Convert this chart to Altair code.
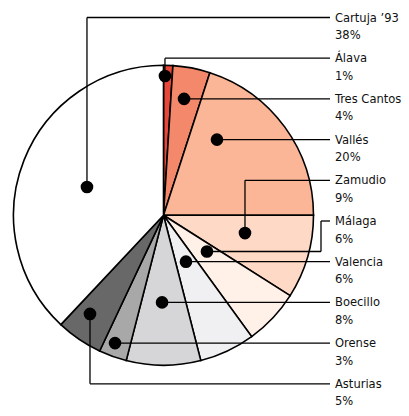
import math
import altair as alt
import pandas as pd

# ---- data ----
names = ["Álava", "Tres Cantos", "Vallés", "Zamudio", "Málaga", "Valencia",
         "Boecillo", "Orense", "Asturias", "Cartuja ’93"]
values = [1, 4, 20, 9, 6, 6, 8, 3, 5, 38]
colors = ["#e8483a", "#f3896a", "#fbb697", "#fdd9c6", "#fff0e8", "#f0eff1",
          "#d6d5d7", "#a8a8a8", "#686868", "#ffffff"]

# label order on the right (top to bottom)
label_order = ["Cartuja ’93", "Álava", "Tres Cantos", "Vallés", "Zamudio",
               "Málaga", "Valencia", "Boecillo", "Orense", "Asturias"]

# callout dot placement: angle (deg, clockwise from top) and radius fraction
dot_angle = {"Cartuja ’93": 290.3, "Álava": 0.6, "Tres Cantos": 10.2, "Vallés": 36.1,
             "Zamudio": 102.3, "Málaga": 129.8, "Valencia": 157.3, "Boecillo": 180.9,
             "Orense": 199.4, "Asturias": 216.7}
dot_rad = {"Cartuja ’93": 0.544, "Álava": 0.929, "Tres Cantos": 0.774, "Vallés": 0.605,
           "Zamudio": 0.556, "Málaga": 0.377, "Valencia": 0.388, "Boecillo": 0.611,
           "Orense": 0.973, "Asturias": 0.82}
# leader style: v = vertical then horizontal, h = horizontal, m = horizontal-vertical-horizontal
leader_style = {"Cartuja ’93": "v", "Álava": "v", "Tres Cantos": "h", "Vallés": "h",
                "Zamudio": "v", "Málaga": "m", "Valencia": "h", "Boecillo": "h",
                "Orense": "h", "Asturias": "v"}

# ---- layout ----
W, H = 393, 400
CX, CY, R = 155.5, 207.3, 150
LINE_END = 322
ELBOW_X = 313
TEXT_X = 327
LABEL_TOP, LABEL_STEP, PCT_GAP = 9.5, 40.7, 17.5

pie_df = pd.DataFrame({"name": names, "value": values, "order": list(range(len(names)))})

dots, segs, labels = [], [], []
for i, n in enumerate(label_order):
    a = math.radians(dot_angle[n])
    ly = LABEL_TOP + LABEL_STEP * i
    dx = CX + dot_rad[n] * R * math.sin(a)
    dy = CY - dot_rad[n] * R * math.cos(a)
    st = leader_style[n]
    if st == "h":
        dy = ly
    dots.append({"name": n, "x": dx, "y": dy})
    pct = values[names.index(n)]
    labels.append({"name": n, "pct": f"{pct}%", "x": TEXT_X, "y": ly, "y2": ly + PCT_GAP})
    if st == "v":
        segs.append({"x": dx, "y": dy, "x2": dx, "y2": ly})
        segs.append({"x": dx, "y": ly, "x2": LINE_END, "y2": ly})
    elif st == "h":
        segs.append({"x": dx, "y": dy, "x2": LINE_END, "y2": dy})
    else:
        segs.append({"x": dx, "y": dy, "x2": ELBOW_X, "y2": dy})
        segs.append({"x": ELBOW_X, "y": dy, "x2": ELBOW_X, "y2": ly})
        segs.append({"x": ELBOW_X, "y": ly, "x2": LINE_END, "y2": ly})

dots_df = pd.DataFrame(dots)
segs_df = pd.DataFrame(segs)
labels_df = pd.DataFrame(labels)

xs = alt.Scale(domain=[0, W], range=[0, W])
ys = alt.Scale(domain=[0, H], range=[0, H])

pie = alt.Chart(pie_df).mark_arc(radius=R, stroke="black", strokeWidth=1.6).encode(
    theta=alt.Theta("value:Q", stack=True),
    order=alt.Order("order:Q"),
    color=alt.Color("name:N", scale=alt.Scale(domain=names, range=colors), legend=None),
    x=alt.value(CX), y=alt.value(CY),
)

lines = alt.Chart(segs_df).mark_rule(color="black", strokeWidth=1.3).encode(
    x=alt.X("x:Q", scale=xs, axis=None), y=alt.Y("y:Q", scale=ys, axis=None),
    x2="x2:Q", y2="y2:Q",
)

pts = alt.Chart(dots_df).mark_circle(color="black", opacity=1, size=160).encode(
    x=alt.X("x:Q", scale=xs, axis=None), y=alt.Y("y:Q", scale=ys, axis=None),
)

font = "DejaVu Sans Condensed, DejaVu Sans"
t1 = alt.Chart(labels_df).mark_text(align="left", baseline="middle", font=font,
                                    fontSize=12.8, color="#111111").encode(
    x=alt.X("x:Q", scale=xs, axis=None), y=alt.Y("y:Q", scale=ys, axis=None), text="name:N",
)
t2 = alt.Chart(labels_df).mark_text(align="left", baseline="middle", font=font,
                                    fontSize=12.8, color="#111111").encode(
    x=alt.X("x:Q", scale=xs, axis=None), y=alt.Y("y2:Q", scale=ys, axis=None), text="pct:N",
)

chart = alt.layer(pie, lines, pts, t1, t2).properties(
    width=W, height=H, padding=0, autosize=alt.AutoSizeParams(type="none")
).configure_view(stroke=None)

chart.save("out.html", embed_options={"renderer": "svg", "actions": False})
